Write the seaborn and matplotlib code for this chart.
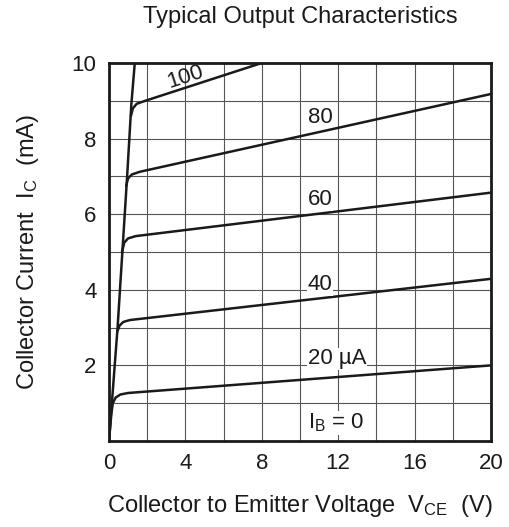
import numpy as np
import pandas as pd
import matplotlib
matplotlib.use("Agg")
import matplotlib.pyplot as plt
import seaborn as sns

sns.set_style("white")
plt.rcParams["font.family"] = ["Liberation Sans", "DejaVu Sans"]
plt.rcParams["mathtext.fontset"] = "custom"
plt.rcParams["mathtext.rm"] = "Liberation Sans"
plt.rcParams["mathtext.it"] = "Liberation Sans"

# Output curves (VCE in V, IC in mA), one per base current
vce_20 = [0.0, 0.12, 0.2, 0.35, 0.6, 1.0, 20.0]
ic_20 = [0.0, 0.7, 1.0, 1.15, 1.23, 1.27, 2.0]
vce_40 = [0.44, 0.55, 0.75, 1.1, 20.0]
ic_40 = [2.9, 3.05, 3.15, 3.2, 4.29]
vce_60 = [0.68, 0.8, 1.0, 1.4, 20.0]
ic_60 = [5.0, 5.25, 5.36, 5.42, 6.57]
vce_80 = [0.9, 1.0, 1.2, 1.6, 20.0]
ic_80 = [6.75, 6.95, 7.05, 7.12, 9.18]
vce_100 = [1.15, 1.25, 1.45, 1.9, 8.0]
ic_100 = [8.6, 8.8, 8.92, 9.0, 10.0]
# saturation line from the origin
vce_sat = [0.0, 0.45, 0.7, 0.95, 1.17, 1.35]
ic_sat = [0.0, 3.0, 5.0, 7.0, 8.9, 10.0]

x_ticks = [0, 4, 8, 12, 16, 20]
y_ticks = [2, 4, 6, 8, 10]

frames = []
for name, vx, vy in [("20", vce_20, ic_20), ("40", vce_40, ic_40),
                     ("60", vce_60, ic_60), ("80", vce_80, ic_80),
                     ("100", vce_100, ic_100), ("sat", vce_sat, ic_sat)]:
    frames.append(pd.DataFrame({"vce": vx, "ic": vy, "curve": name}))
df = pd.concat(frames, ignore_index=True)

FS = 16
FS_LAB = 17
INK = "#1a1a1a"

fig = plt.figure(figsize=(5.1, 5.27), dpi=100)
ax = fig.add_axes([0.2137, 0.1632, 0.749, 0.7173])

sns.lineplot(data=df, x="vce", y="ic", units="curve", estimator=None,
             sort=False, color=INK, linewidth=1.8, ax=ax, legend=False)

ax.set_xlim(0, 20)
ax.set_ylim(0, 10)
ax.set_xticks(x_ticks)
ax.set_xticks([2, 6, 10, 14, 18], minor=True)
ax.set_yticks(y_ticks)
ax.set_yticks([0, 1, 3, 5, 7, 9], minor=True)
ax.set_axisbelow(True)
ax.grid(True, which="both", color="#555555", linewidth=0.8)
ax.tick_params(which="both", length=0, labelsize=FS, pad=9, colors=INK)
for s in ax.spines.values():
    s.set_linewidth(2.0)
    s.set_color(INK)

box = dict(facecolor="white", edgecolor="none", pad=0.5)
ax.text(4.0, 9.62, "100", fontsize=FS, rotation=18, ha="center", va="center",
        color=INK)
ax.text(11.05, 8.55, "80", fontsize=FS, ha="center", va="center", color=INK)
ax.text(11.05, 6.38, "60", fontsize=FS, ha="center", va="center", color=INK,
        bbox=box)
ax.text(11.05, 4.13, "40", fontsize=FS, ha="center", va="center", color=INK,
        bbox=box)
ax.text(11.95, 2.17, "20 µA", fontsize=FS, ha="center", va="center",
        color=INK, bbox=box)
ax.text(11.9, 0.48, r"I$_\mathregular{B}$ = 0", fontsize=FS, ha="center",
        va="center", color=INK, bbox=box)

ax.set_xlabel(r"Collector to Emitter Voltage  V$_\mathregular{CE}$  (V)",
              fontsize=FS_LAB, labelpad=13, color=INK)
ax.set_ylabel(r"Collector Current  I$_\mathregular{C}$  (mA)", fontsize=FS_LAB,
              labelpad=22, color=INK)
ax.set_title("Typical Output Characteristics", fontsize=FS_LAB, pad=29,
             color=INK)

fig.savefig("out.png", dpi=100)
